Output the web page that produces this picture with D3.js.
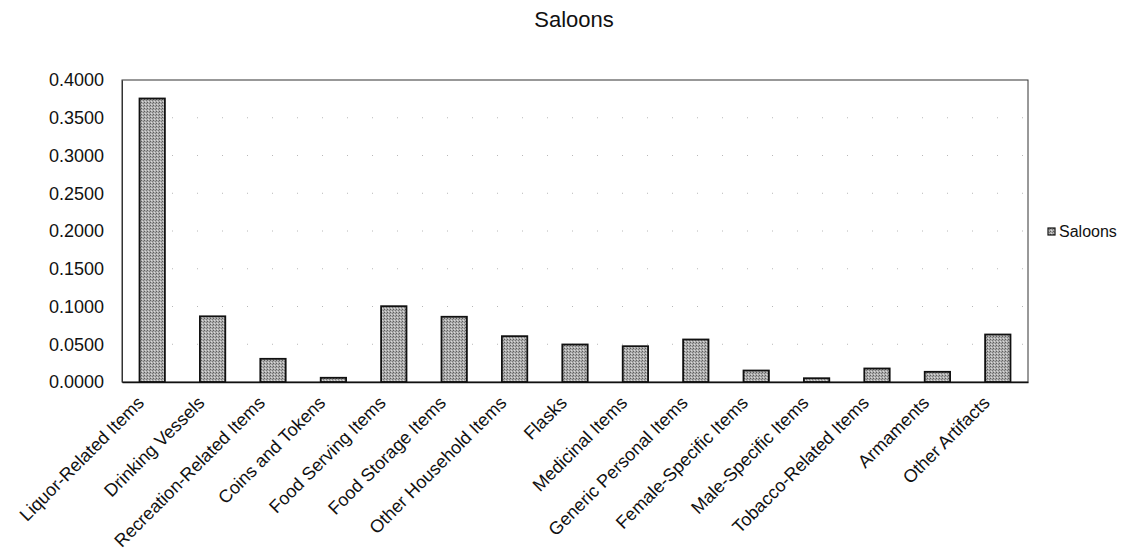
<!DOCTYPE html>
<html><head><meta charset="utf-8">
<script src="https://cdn.jsdelivr.net/npm/d3@7"></script>
<style>body{margin:0;background:#fff;}svg{display:block;font-family:"Liberation Sans",Arial,sans-serif;}</style>
</head><body><svg id="c" width="1132" height="554"></svg>
<script>
const title = "Saloons";
const seriesName = "Saloons";
const categories = ["Liquor-Related Items","Drinking Vessels","Recreation-Related Items","Coins and Tokens","Food Serving Items","Food Storage Items","Other Household Items","Flasks","Medicinal Items","Generic Personal Items","Female-Specific Items","Male-Specific Items","Tobacco-Related Items","Armaments","Other Artifacts"];
const values = [0.3755,0.0870,0.0307,0.0056,0.1004,0.0864,0.0607,0.0497,0.0474,0.0563,0.0152,0.0050,0.0179,0.0135,0.0629];
const yTicks = [0,0.05,0.1,0.15,0.2,0.25,0.3,0.35,0.4];

const svg = d3.select("#c");
const L = 122, R = 1028, T = 80, B = 382;
const x = d3.scaleBand().domain(categories).range([L, R]).paddingInner(0.58).paddingOuter(0.29);
const y = d3.scaleLinear().domain([0, 0.4]).range([B, T]);

const defs = svg.append("defs");
const pat = defs.append("pattern").attr("id","stip").attr("width",3).attr("height",3).attr("patternUnits","userSpaceOnUse");
pat.append("rect").attr("width",3).attr("height",3).attr("fill","#adadad");
pat.append("rect").attr("x",0).attr("y",0).attr("width",1).attr("height",1).attr("fill","#5e5e5e");
pat.append("rect").attr("x",2).attr("y",1).attr("width",1).attr("height",1).attr("fill","#7a7a7a");
pat.append("rect").attr("x",1).attr("y",2).attr("width",1).attr("height",1).attr("fill","#dadada");

// gridlines
svg.append("g").selectAll("line").data(yTicks.filter(d=>d>0 && d<0.4)).join("line")
  .attr("x1", L).attr("x2", R).attr("y1", d=>y(d)).attr("y2", d=>y(d))
  .attr("stroke", "#b8b8b8").attr("stroke-width", 1).attr("stroke-dasharray", "1,24");

// plot frame
svg.append("rect").attr("x", L).attr("y", T).attr("width", R-L).attr("height", B-T)
  .attr("fill","none").attr("stroke","#333").attr("stroke-width",1);

// bars
svg.append("g").selectAll("rect").data(categories).join("rect")
  .attr("x", d=>x(d)).attr("width", x.bandwidth())
  .attr("y", (d,i)=>y(values[i])).attr("height", (d,i)=>B - y(values[i]))
  .attr("fill","url(#stip)").attr("stroke","#111").attr("stroke-width",1.8);

// axes
const yAxis = d3.axisLeft(y).tickValues(yTicks).tickFormat(d3.format(".4f")).tickSize(0).tickPadding(18);
const ga = svg.append("g").attr("transform",`translate(${L},0)`).call(yAxis);
ga.select(".domain").attr("stroke","#333");
ga.selectAll("text").attr("font-size",18).attr("fill","#111").attr("font-family","Liberation Sans, Arial, sans-serif");

const xAxis = d3.axisBottom(x).tickSize(0).tickPadding(0);
const gx = svg.append("g").attr("transform",`translate(0,${B})`).call(xAxis);
gx.select(".domain").attr("stroke","#111").attr("stroke-width",1.5);
gx.selectAll("text").attr("font-size",18).attr("fill","#111").attr("font-family","Liberation Sans, Arial, sans-serif")
  .attr("text-anchor","end").attr("dy",0).attr("y",0)
  .attr("transform","translate(-7,22) rotate(-45)");

// title
svg.append("text").attr("x", 574).attr("y", 27).attr("text-anchor","middle")
  .attr("font-size",22).attr("fill","#111").text(title);

// legend
svg.append("rect").attr("x",1048).attr("y",228).attr("width",7).attr("height",7)
  .attr("fill","url(#stip)").attr("stroke","#111").attr("stroke-width",1.2);
svg.append("text").attr("x",1059).attr("y",236.5).attr("font-size",16).attr("fill","#111").text(seriesName);
</script></body></html>
